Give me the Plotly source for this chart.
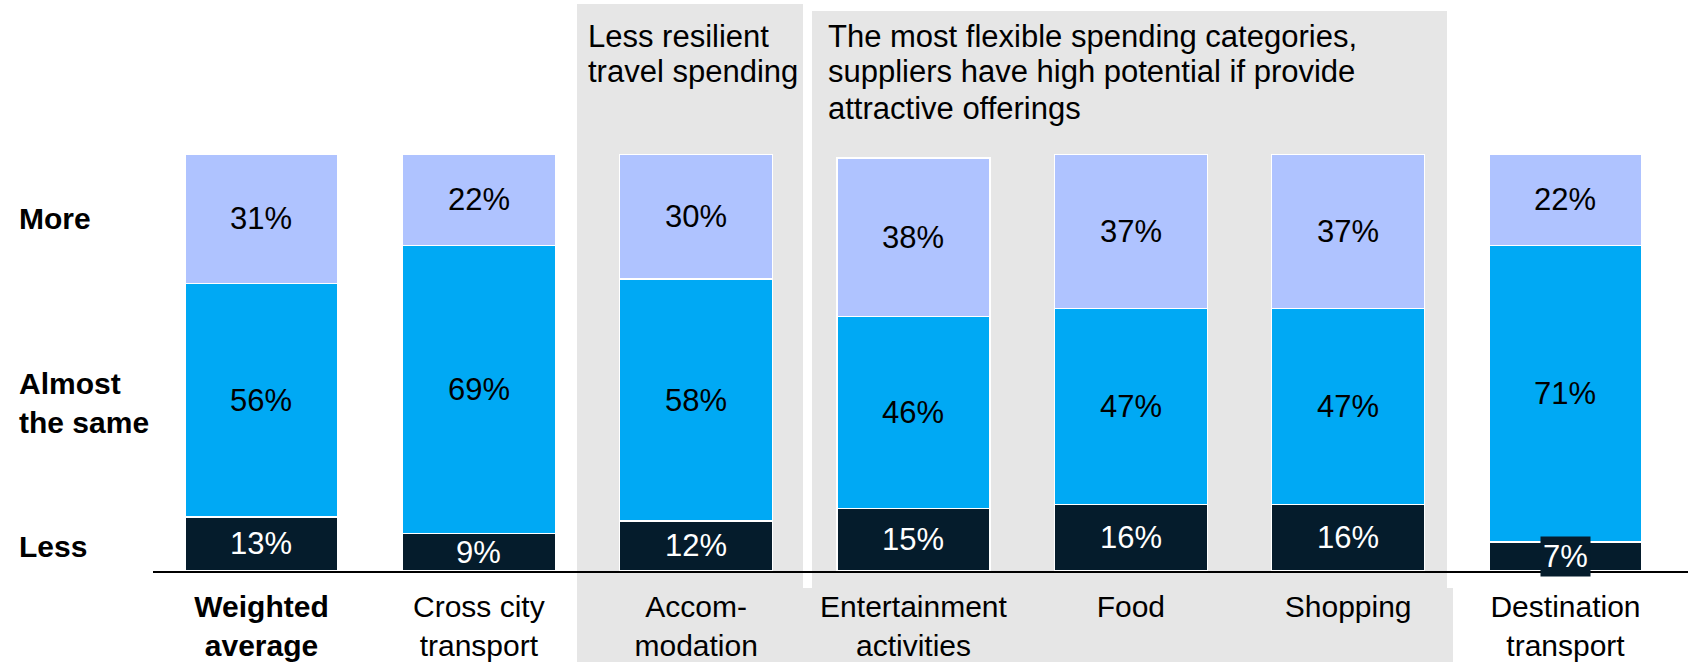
import plotly.graph_objects as go

# Share of travellers planning to spend more / the same / less, by category
categories = [
    "<b>Weighted</b><br><b>average</b>",
    "Cross city<br>transport",
    "Accom-<br>modation",
    "Entertainment<br>activities",
    "Food",
    "Shopping",
    "Destination<br>transport",
]
less = [13, 9, 12, 15, 16, 16, 7]
same = [56, 69, 58, 46, 47, 47, 71]
more = [31, 22, 30, 38, 37, 37, 22]

row_labels = ["More", "Almost<br>the same", "Less"]
note_left = ["Less resilient", "travel spending"]
note_right = ["The most flexible spending categories,",
              "suppliers have high potential if provide",
              "attractive offerings"]

NAVY = "#051C2C"
MID = "#00A9F4"
LIGHT = "#AFC3FF"
GREY = "#E6E6E6"
FONT = "Liberation Sans, Arial, sans-serif"

W, H = 1688, 662
ML, MR, MT, MB = 153, 0, 154, 91
PW, PH = W - ML - MR, H - MT - MB

x = list(range(len(categories)))

fig = go.Figure()
for name, vals, color in [("Less", less, NAVY), ("Almost the same", same, MID), ("More", more, LIGHT)]:
    fig.add_trace(go.Bar(
        x=x, y=vals, name=name, width=0.704,
        marker=dict(color=color, line=dict(color="white", width=1.5)),
        hoverinfo="skip",
    ))


def px_x(p):
    return (p - ML) / PW


def px_y(p):
    return (H - MB - p) / PH


# Grey grouping panels behind the bars
shapes = [
    dict(type="rect", xref="paper", yref="paper", layer="below", line_width=0, fillcolor=GREY,
         x0=px_x(577), x1=px_x(803), y0=px_y(662), y1=px_y(4)),
    dict(type="rect", xref="paper", yref="paper", layer="below", line_width=0, fillcolor=GREY,
         x0=px_x(812), x1=px_x(1447), y0=px_y(588), y1=px_y(11)),
    dict(type="rect", xref="paper", yref="paper", layer="below", line_width=0, fillcolor=GREY,
         x0=px_x(577), x1=px_x(1453), y0=px_y(662), y1=px_y(588)),
]

annotations = []
# Value labels centred in each segment
for i in x:
    base = 0
    for vals, col in [(less, "white"), (same, "black"), (more, "black")]:
        v = vals[i]
        ann = dict(x=i, y=base + v / 2, xref="x", yref="y", text=f"{v}%", showarrow=False,
                   font=dict(family=FONT, size=31, color=col), xanchor="center", yanchor="middle")
        if v < 8:
            ann.update(bgcolor=NAVY, borderpad=2)
        annotations.append(ann)
        base += v

# Row labels on the left
for text, ypx in zip(row_labels, [218, 403, 546]):
    annotations.append(dict(x=px_x(17), y=px_y(ypx), xref="paper", yref="paper", text=f"<b>{text}</b>",
                            showarrow=False, xanchor="left", yanchor="middle", align="left",
                            font=dict(family=FONT, size=30, color="black")))

# Panel captions, one line at a time for tighter line spacing
for lines, xpx in [(note_left, 586), (note_right, 826)]:
    for line, ypx in zip(lines, [36, 72, 108]):
        annotations.append(dict(x=px_x(xpx), y=px_y(ypx), xref="paper", yref="paper", text=line,
                                showarrow=False, xanchor="left", yanchor="middle", align="left",
                                font=dict(family=FONT, size=31, color="black")))

fig.update_layout(
    width=W, height=H,
    margin=dict(l=ML, r=MR, t=MT, b=MB, pad=0),
    barmode="stack",
    showlegend=False,
    paper_bgcolor="white",
    plot_bgcolor="rgba(0,0,0,0)",
    shapes=shapes,
    annotations=annotations,
    xaxis=dict(
        range=[-0.4992, 6.5637], tickmode="array", tickvals=x, ticktext=categories,
        showline=True, linecolor="black", linewidth=2, showgrid=False, zeroline=False,
        ticks="", ticklabelstandoff=8,
        tickfont=dict(family=FONT, size=30, color="black"), fixedrange=True,
    ),
    yaxis=dict(range=[0, 100], visible=False, fixedrange=True),
)

fig.write_html("out.html", config={"displayModeBar": False})
